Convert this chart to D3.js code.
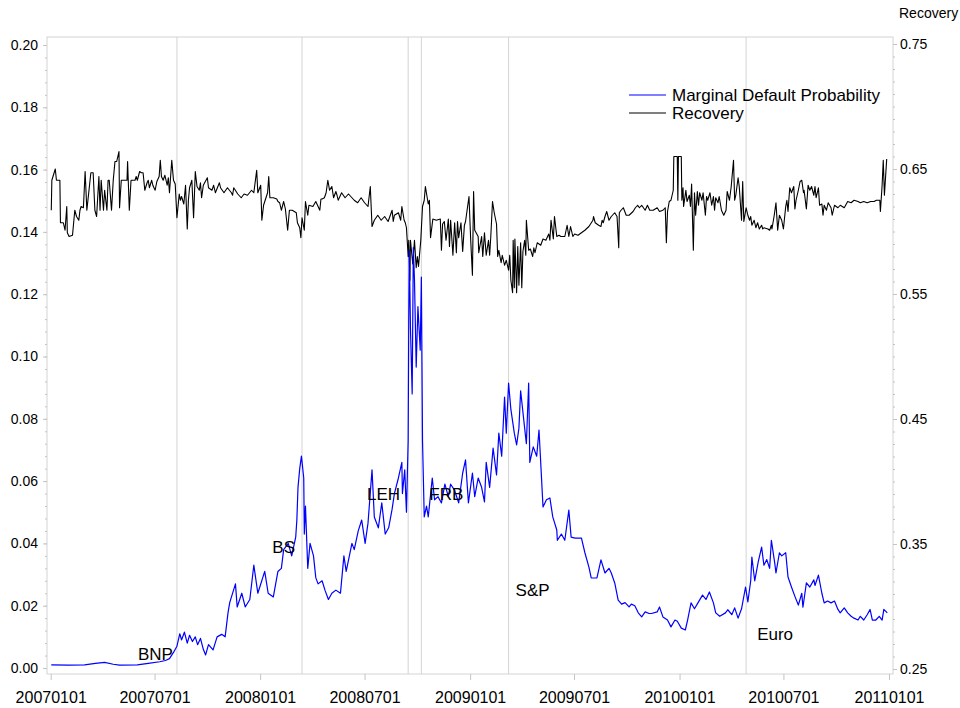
<!DOCTYPE html>
<html>
<head>
  <meta charset="utf-8">
  <title>Marginal Default Probability and Recovery</title>
  <script src="https://d3js.org/d3.v7.min.js"></script>
  <style>
    body { margin: 0; background: #fff; }
    text { font-family: "Liberation Sans", Arial, sans-serif; fill: #000; }
  </style>
</head>
<body>
<script>
// marginal default probability, left axis
var mdp = [
  ["20070102",0.0010],["20070201",0.0009],["20070301",0.0010],["20070320",0.0015],["20070405",0.0018],["20070420",0.0012],
  ["20070501",0.0009],["20070601",0.0010],["20070620",0.0015],["20070710",0.0020],["20070720",0.0024],["20070727",0.0030],
  ["20070803",0.0050],["20070809",0.0070],["20070814",0.0110],["20070817",0.0090],["20070822",0.0115],["20070827",0.0080],
  ["20070831",0.0105],["20070905",0.0085],["20070910",0.0100],["20070914",0.0075],["20070919",0.0095],["20070924",0.0060],
  ["20070928",0.0042],["20071003",0.0075],["20071011",0.0058],["20071018",0.0100],["20071026",0.0108],["20071101",0.0100],
  ["20071106",0.0177],["20071109",0.0210],["20071119",0.0270],["20071122",0.0196],["20071130",0.0240],["20071206",0.0196],
  ["20071214",0.0220],["20071221",0.0330],["20071228",0.0240],["20080109",0.0310],["20080115",0.0240],["20080124",0.0228],
  ["20080201",0.0310],["20080207",0.0320],["20080211",0.0380],["20080219",0.0400],["20080225",0.0360],["20080303",0.0420],
  ["20080305",0.0475],["20080307",0.0580],["20080310",0.0640],["20080313",0.0680],["20080317",0.0610],["20080318",0.0430],
  ["20080320",0.0520],["20080324",0.0320],["20080328",0.0400],["20080403",0.0360],["20080407",0.0290],["20080411",0.0270],
  ["20080418",0.0280],["20080423",0.0250],["20080429",0.0220],["20080505",0.0240],["20080512",0.0250],["20080520",0.0240],
  ["20080526",0.0360],["20080530",0.0310],["20080609",0.0400],["20080613",0.0380],["20080620",0.0440],["20080626",0.0475],
  ["20080702",0.0400],["20080707",0.0465],["20080714",0.0636],["20080718",0.0485],["20080725",0.0450],["20080731",0.0530],
  ["20080806",0.0430],["20080812",0.0450],["20080818",0.0510],["20080822",0.0560],["20080829",0.0610],["20080904",0.0660],
  ["20080905",0.0560],["20080909",0.0636],["20080912",0.0500],["20080915",0.0730],["20080916",0.1120],["20080917",0.1340],
  ["20080919",0.1090],["20080922",0.0880],["20080924",0.1350],["20080926",0.1245],["20080929",0.0966],["20081002",0.1160],
  ["20081006",0.1020],["20081008",0.1255],["20081010",0.0730],["20081013",0.0485],["20081017",0.0520],["20081020",0.0485],
  ["20081027",0.0610],["20081031",0.0540],["20081106",0.0550],["20081112",0.0530],["20081118",0.0590],["20081124",0.0550],
  ["20081128",0.0590],["20081205",0.0570],["20081212",0.0530],["20081219",0.0626],["20081224",0.0668],["20081229",0.0530],
  ["20090105",0.0626],["20090109",0.0550],["20090115",0.0610],["20090121",0.0580],["20090126",0.0533],["20090129",0.0660],
  ["20090204",0.0580],["20090210",0.0706],["20090216",0.0620],["20090220",0.0754],["20090225",0.0680],["20090302",0.0870],
  ["20090305",0.0754],["20090309",0.0915],["20090313",0.0830],["20090319",0.0754],["20090323",0.0716],["20090327",0.0770],
  ["20090330",0.0890],["20090406",0.0770],["20090409",0.0720],["20090413",0.0915],["20090415",0.0660],["20090421",0.0710],
  ["20090427",0.0680],["20090501",0.0764],["20090504",0.0660],["20090508",0.0517],["20090514",0.0540],["20090520",0.0546],
  ["20090525",0.0485],["20090601",0.0443],["20090602",0.0410],["20090609",0.0430],["20090615",0.0410],["20090622",0.0507],
  ["20090626",0.0420],["20090703",0.0417],["20090714",0.0417],["20090720",0.0370],["20090727",0.0324],["20090731",0.0289],
  ["20090810",0.0289],["20090817",0.0347],["20090824",0.0305],["20090831",0.0320],["20090904",0.0305],["20090910",0.0273],
  ["20090916",0.0218],["20090922",0.0205],["20090928",0.0210],["20091005",0.0196],["20091009",0.0205],["20091015",0.0200],
  ["20091021",0.0177],["20091027",0.0164],["20091102",0.0180],["20091109",0.0175],["20091113",0.0175],["20091123",0.0180],
  ["20091127",0.0196],["20091203",0.0164],["20091211",0.0154],["20091217",0.0132],["20091224",0.0154],["20091228",0.0150],
  ["20100104",0.0128],["20100111",0.0122],["20100115",0.0154],["20100121",0.0209],["20100127",0.0190],["20100202",0.0209],
  ["20100210",0.0234],["20100216",0.0220],["20100222",0.0244],["20100301",0.0209],["20100305",0.0177],["20100312",0.0166],
  ["20100322",0.0177],["20100326",0.0187],["20100402",0.0171],["20100407",0.0193],["20100413",0.0160],["20100419",0.0190],
  ["20100426",0.0260],["20100430",0.0212],["20100505",0.0280],["20100507",0.0356],["20100512",0.0280],["20100518",0.0340],
  ["20100524",0.0388],["20100528",0.0330],["20100602",0.0348],["20100607",0.0320],["20100610",0.0410],["20100616",0.0335],
  ["20100618",0.0305],["20100624",0.0370],["20100628",0.0360],["20100705",0.0370],["20100709",0.0292],["20100715",0.0260],
  ["20100721",0.0230],["20100727",0.0202],["20100802",0.0240],["20100804",0.0195],["20100810",0.0273],["20100816",0.0260],
  ["20100823",0.0283],["20100825",0.0265],["20100831",0.0298],["20100906",0.0240],["20100910",0.0209],["20100916",0.0215],
  ["20100922",0.0209],["20100928",0.0215],["20101004",0.0188],["20101008",0.0177],["20101015",0.0193],["20101021",0.0177],
  ["20101027",0.0166],["20101101",0.0160],["20101108",0.0154],["20101112",0.0166],["20101118",0.0154],["20101124",0.0171],
  ["20101129",0.0188],["20101203",0.0154],["20101209",0.0154],["20101215",0.0166],["20101220",0.0154],["20101223",0.0188],
  ["20101229",0.0177]
];

// recovery, right axis
var recovery = [
  ["20070102",0.617],["20070103",0.641],["20070109",0.650],["20070111",0.641],["20070117",0.641],["20070118",0.607],
  ["20070123",0.607],["20070126",0.601],["20070129",0.620],["20070130",0.599],["20070202",0.596],["20070208",0.597],
  ["20070212",0.617],["20070215",0.612],["20070219",0.609],["20070221",0.617],["20070223",0.620],["20070227",0.619],
  ["20070302",0.648],["20070305",0.617],["20070312",0.647],["20070316",0.647],["20070319",0.617],["20070322",0.612],
  ["20070326",0.644],["20070328",0.617],["20070330",0.641],["20070403",0.617],["20070405",0.633],["20070409",0.617],
  ["20070411",0.641],["20070413",0.641],["20070417",0.617],["20070420",0.641],["20070423",0.656],["20070426",0.656],
  ["20070430",0.664],["20070501",0.619],["20070504",0.641],["20070510",0.641],["20070514",0.641],["20070515",0.656],
  ["20070518",0.617],["20070521",0.641],["20070528",0.641],["20070530",0.644],["20070601",0.641],["20070605",0.648],
  ["20070608",0.647],["20070611",0.647],["20070614",0.633],["20070618",0.639],["20070620",0.641],["20070622",0.635],
  ["20070626",0.641],["20070628",0.637],["20070702",0.633],["20070705",0.640],["20070709",0.644],["20070711",0.657],
  ["20070713",0.644],["20070716",0.641],["20070719",0.645],["20070723",0.637],["20070725",0.643],["20070727",0.631],
  ["20070731",0.657],["20070803",0.641],["20070806",0.638],["20070809",0.611],["20070813",0.630],["20070815",0.625],
  ["20070817",0.628],["20070821",0.622],["20070824",0.637],["20070827",0.602],["20070829",0.625],["20070831",0.635],
  ["20070904",0.641],["20070907",0.611],["20070910",0.648],["20070913",0.636],["20070917",0.633],["20070919",0.639],
  ["20070921",0.627],["20070924",0.637],["20071001",0.643],["20071003",0.635],["20071009",0.633],["20071012",0.637],
  ["20071015",0.631],["20071022",0.639],["20071024",0.635],["20071030",0.631],["20071105",0.635],["20071112",0.631],
  ["20071114",0.629],["20071116",0.635],["20071123",0.630],["20071129",0.627],["20071204",0.630],["20071210",0.629],
  ["20071217",0.633],["20071221",0.631],["20071226",0.649],["20071228",0.631],["20080102",0.637],["20080104",0.609],
  ["20080107",0.621],["20080114",0.631],["20080116",0.644],["20080118",0.627],["20080124",0.627],["20080130",0.626],
  ["20080201",0.624],["20080204",0.623],["20080207",0.617],["20080211",0.624],["20080214",0.618],["20080218",0.601],
  ["20080221",0.617],["20080226",0.617],["20080304",0.615],["20080306",0.607],["20080310",0.603],["20080312",0.595],
  ["20080314",0.611],["20080318",0.601],["20080320",0.624],["20080324",0.613],["20080326",0.621],["20080402",0.620],
  ["20080407",0.624],["20080414",0.617],["20080416",0.626],["20080418",0.626],["20080422",0.627],["20080425",0.631],
  ["20080428",0.641],["20080501",0.633],["20080505",0.636],["20080508",0.627],["20080512",0.632],["20080514",0.629],
  ["20080516",0.625],["20080522",0.631],["20080528",0.627],["20080603",0.630],["20080609",0.627],["20080613",0.625],
  ["20080619",0.623],["20080625",0.627],["20080701",0.623],["20080707",0.620],["20080711",0.636],["20080714",0.604],
  ["20080718",0.609],["20080724",0.613],["20080730",0.609],["20080805",0.612],["20080811",0.608],["20080818",0.617],
  ["20080820",0.608],["20080822",0.613],["20080829",0.615],["20080902",0.609],["20080904",0.620],["20080908",0.609],
  ["20080910",0.607],["20080912",0.603],["20080915",0.580],["20080916",0.593],["20080918",0.561],["20080919",0.593],
  ["20080923",0.574],["20080926",0.593],["20080929",0.571],["20081001",0.580],["20081003",0.572],["20081007",0.593],
  ["20081010",0.620],["20081013",0.625],["20081015",0.636],["20081020",0.622],["20081022",0.625],["20081024",0.595],
  ["20081028",0.610],["20081103",0.609],["20081110",0.610],["20081112",0.585],["20081114",0.606],["20081117",0.608],
  ["20081120",0.593],["20081124",0.610],["20081126",0.588],["20081128",0.609],["20081202",0.581],["20081205",0.607],
  ["20081208",0.583],["20081210",0.608],["20081212",0.595],["20081216",0.607],["20081219",0.584],["20081222",0.605],
  ["20081224",0.608],["20081230",0.628],["20090102",0.593],["20090105",0.565],["20090107",0.632],["20090109",0.601],
  ["20090115",0.596],["20090116",0.583],["20090121",0.596],["20090123",0.580],["20090126",0.599],["20090129",0.581],
  ["20090202",0.593],["20090204",0.581],["20090206",0.596],["20090209",0.624],["20090212",0.615],["20090216",0.606],
  ["20090218",0.580],["20090220",0.585],["20090224",0.575],["20090226",0.581],["20090302",0.573],["20090305",0.577],
  ["20090309",0.569],["20090311",0.581],["20090313",0.561],["20090316",0.551],["20090317",0.593],["20090319",0.555],
  ["20090320",0.594],["20090323",0.551],["20090325",0.588],["20090327",0.557],["20090330",0.591],["20090401",0.555],
  ["20090403",0.584],["20090406",0.593],["20090408",0.581],["20090409",0.609],["20090413",0.585],["20090416",0.586],
  ["20090420",0.580],["20090422",0.587],["20090424",0.583],["20090428",0.591],["20090504",0.589],["20090508",0.594],
  ["20090513",0.593],["20090518",0.598],["20090520",0.593],["20090522",0.609],["20090526",0.594],["20090528",0.612],
  ["20090601",0.596],["20090605",0.597],["20090608",0.596],["20090615",0.596],["20090619",0.605],["20090622",0.596],
  ["20090625",0.604],["20090629",0.596],["20090702",0.598],["20090708",0.597],["20090714",0.599],["20090720",0.601],
  ["20090727",0.604],["20090803",0.609],["20090804",0.612],["20090807",0.607],["20090813",0.605],["20090817",0.604],
  ["20090819",0.609],["20090821",0.607],["20090824",0.612],["20090827",0.616],["20090831",0.609],["20090904",0.612],
  ["20090910",0.615],["20090914",0.612],["20090917",0.587],["20090918",0.615],["20090921",0.617],["20090925",0.619],
  ["20090930",0.613],["20091005",0.613],["20091012",0.616],["20091016",0.619],["20091020",0.621],["20091023",0.619],
  ["20091027",0.621],["20091102",0.617],["20091104",0.619],["20091106",0.621],["20091110",0.617],["20091116",0.617],
  ["20091123",0.619],["20091127",0.616],["20091203",0.617],["20091207",0.619],["20091209",0.591],["20091211",0.616],
  ["20091214",0.624],["20091217",0.625],["20091221",0.633],["20091222",0.660],["20091228",0.660],["20091229",0.625],
  ["20091230",0.660],["20100104",0.660],["20100105",0.625],["20100107",0.635],["20100108",0.620],["20100112",0.633],
  ["20100114",0.624],["20100118",0.629],["20100120",0.620],["20100122",0.638],["20100125",0.585],["20100127",0.631],
  ["20100129",0.613],["20100201",0.632],["20100203",0.621],["20100205",0.631],["20100209",0.625],["20100211",0.631],
  ["20100215",0.613],["20100217",0.628],["20100219",0.625],["20100223",0.631],["20100226",0.621],["20100301",0.628],
  ["20100303",0.617],["20100305",0.627],["20100309",0.623],["20100311",0.628],["20100315",0.617],["20100319",0.613],
  ["20100323",0.617],["20100325",0.632],["20100329",0.625],["20100401",0.636],["20100405",0.657],["20100407",0.625],
  ["20100409",0.629],["20100413",0.643],["20100415",0.636],["20100419",0.609],["20100421",0.640],["20100423",0.608],
  ["20100427",0.619],["20100430",0.613],["20100503",0.609],["20100505",0.612],["20100507",0.605],["20100511",0.609],
  ["20100514",0.603],["20100517",0.607],["20100520",0.602],["20100524",0.605],["20100526",0.602],["20100528",0.603],
  ["20100604",0.602],["20100607",0.601],["20100610",0.605],["20100611",0.602],["20100615",0.613],["20100618",0.623],
  ["20100621",0.601],["20100624",0.613],["20100628",0.609],["20100701",0.602],["20100705",0.620],["20100707",0.625],
  ["20100709",0.616],["20100712",0.635],["20100715",0.631],["20100719",0.636],["20100721",0.618],["20100723",0.625],
  ["20100727",0.633],["20100730",0.640],["20100802",0.641],["20100805",0.631],["20100806",0.633],["20100810",0.618],
  ["20100813",0.637],["20100816",0.633],["20100819",0.636],["20100823",0.629],["20100825",0.636],["20100827",0.627],
  ["20100831",0.635],["20100902",0.621],["20100906",0.622],["20100908",0.613],["20100910",0.621],["20100914",0.617],
  ["20100917",0.623],["20100922",0.619],["20100924",0.613],["20100928",0.621],["20101004",0.619],["20101008",0.621],
  ["20101015",0.619],["20101021",0.624],["20101027",0.623],["20101101",0.625],["20101108",0.624],["20101112",0.623],
  ["20101118",0.624],["20101124",0.623],["20101130",0.624],["20101206",0.624],["20101210",0.625],["20101216",0.625],
  ["20101217",0.616],["20101220",0.637],["20101222",0.657],["20101224",0.629],["20101228",0.658]
];

var eventDates = ["20070809","20080314","20080915","20081008","20090309","20100427"];
var eventNames = ["BNP","BS","LEH","FRB","S&P","Euro"];
var seriesNames = ["Marginal Default Probability","Recovery"];
var leftTicks = [0,0.02,0.04,0.06,0.08,0.10,0.12,0.14,0.16,0.18,0.20];
var rightTicks = [0.25,0.35,0.45,0.55,0.65,0.75];
var xTickLabels = ["20070101","20070701","20080101","20080701","20090101","20090701","20100101","20100701","20110101"];

// label placement for the event names (level on the left axis, side of the line)
var labelLevel = [0.0025,0.0370,0.0540,0.0540,0.0230,0.0090];
var labelSide = [-1,-1,-1,1,1,1];
var labelGap = [4,7,8,8,7,11];

var w = 960, h = 708;
var frame = {left: 47, right: 893, top: 37, bottom: 674};
var gridColor = "#d4d4d4";

var parse = d3.timeParse("%Y%m%d");
var x = d3.scaleTime().domain([parse("20070101"), parse("20110101")]).range([50.7, 889]);
var yL = d3.scaleLinear().domain([0, 0.2]).range([668, 45]);
var yR = d3.scaleLinear().domain([0.25, 0.75]).range([669, 44]);

var svg = d3.select("body").append("svg").attr("width", w).attr("height", h);

// frame
svg.append("rect")
  .attr("x", frame.left).attr("y", frame.top)
  .attr("width", frame.right - frame.left).attr("height", frame.bottom - frame.top)
  .attr("fill", "none").attr("stroke", gridColor);

// event lines
svg.selectAll("line.event").data(eventDates).enter().append("line")
  .attr("class", "event")
  .attr("x1", function(d){ return x(parse(d)); })
  .attr("x2", function(d){ return x(parse(d)); })
  .attr("y1", frame.top).attr("y2", frame.bottom)
  .attr("stroke", gridColor);

function styleAxis(g) {
  g.select(".domain").remove();
  g.selectAll(".tick line").attr("stroke", "#c4c4c4");
  g.selectAll("text").attr("fill", "#000").attr("font-family", "Liberation Sans, Arial, sans-serif");
}

// left axis
svg.append("g").attr("transform", "translate(" + frame.left + ",0)")
  .call(d3.axisLeft(yL).tickValues(d3.range(0, 0.2001, 0.004)).tickSize(2).tickFormat(""))
  .call(styleAxis);
svg.append("g").attr("transform", "translate(" + frame.left + ",0)")
  .call(d3.axisLeft(yL).tickValues(leftTicks).tickSize(4).tickPadding(5).tickFormat(d3.format(".2f")))
  .call(styleAxis)
  .selectAll("text").attr("font-size", "14px");

// right axis
svg.append("g").attr("transform", "translate(" + frame.right + ",0)")
  .call(d3.axisRight(yR).tickValues(d3.range(0.25, 0.7501, 0.01)).tickSize(2).tickFormat(""))
  .call(styleAxis);
svg.append("g").attr("transform", "translate(" + frame.right + ",0)")
  .call(d3.axisRight(yR).tickValues(rightTicks).tickSize(4).tickPadding(3).tickFormat(d3.format(".2f")))
  .call(styleAxis)
  .selectAll("text").attr("font-size", "14px");

svg.append("text").attr("x", 899).attr("y", 18).attr("font-size", "14px").text("Recovery");

// bottom axis
svg.append("g").attr("transform", "translate(0," + frame.bottom + ")")
  .call(d3.axisBottom(x).tickValues(xTickLabels.map(parse)).tickSize(6).tickPadding(12)
    .tickFormat(d3.timeFormat("%Y%m%d")))
  .call(styleAxis)
  .selectAll("text").attr("font-size", "16px");

// series
var lineL = d3.line().x(function(d){ return x(parse(d[0])); }).y(function(d){ return yL(d[1]); });
var lineR = d3.line().x(function(d){ return x(parse(d[0])); }).y(function(d){ return yR(d[1]); });

svg.append("path").datum(recovery).attr("d", lineR)
  .attr("fill", "none").attr("stroke", "#000").attr("stroke-width", 1.1).attr("stroke-linejoin", "round");
svg.append("path").datum(mdp).attr("d", lineL)
  .attr("fill", "none").attr("stroke", "#0000ff").attr("stroke-width", 1.2).attr("stroke-linejoin", "round");

// event labels
svg.selectAll("text.ev").data(eventNames).enter().append("text")
  .attr("class", "ev")
  .attr("x", function(d, i){ return x(parse(eventDates[i])) + labelSide[i] * labelGap[i]; })
  .attr("y", function(d, i){ return yL(labelLevel[i]); })
  .attr("text-anchor", function(d, i){ return labelSide[i] < 0 ? "end" : "start"; })
  .attr("font-size", "17px")
  .text(function(d){ return d; });

// legend
var legendColors = ["#0000ff", "#000"];
var legend = svg.selectAll("g.legend").data(seriesNames).enter().append("g")
  .attr("class", "legend")
  .attr("transform", function(d, i){ return "translate(629," + (95 + i * 18) + ")"; });
legend.append("line").attr("x1", 0).attr("x2", 37).attr("y1", 0).attr("y2", 0)
  .attr("stroke", function(d, i){ return legendColors[i]; }).attr("stroke-width", 1.2);
legend.append("text").attr("x", 43).attr("y", 6).attr("font-size", "17px").text(function(d){ return d; });
</script>
</body>
</html>
